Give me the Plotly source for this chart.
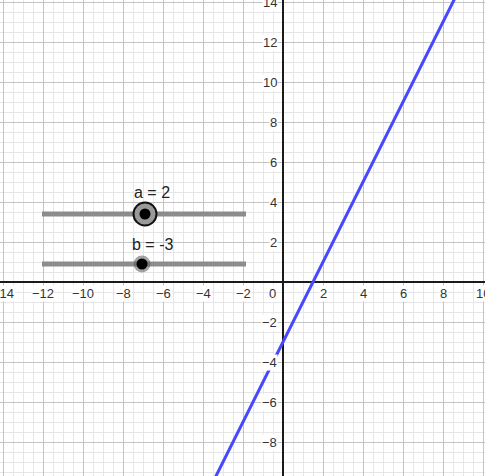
import plotly.graph_objects as go

# ---- data ----
a_value = 2
b_value = -3
line_x = [-4, 9]
x_tick_values = [-14, -12, -10, -8, -6, -4, -2, 2, 4, 6, 8, 10]
y_tick_values = [-8, -6, -4, -2, 2, 4, 6, 8, 10, 12, 14]
slider_x = [-12.05, -1.85]
slider_a_y = 3.4
slider_b_y = 0.9
knob_a_x = -6.9
knob_b_x = -7.05
label_a = "a = 2"
label_b = "b = -3"

line_y = [a_value * x + b_value for x in line_x]

X_RANGE = [-14.15, 10.1]
Y_RANGE = [-9.7, 14.1]
W, H = 485, 476

fig = go.Figure()

# sliders
for sy in [slider_a_y, slider_b_y]:
    fig.add_trace(go.Scatter(x=slider_x, y=[sy, sy], mode="lines",
                             line=dict(color="#8c8c8c", width=5),
                             hoverinfo="skip", showlegend=False))

# line f(x) = a x + b
fig.add_trace(go.Scatter(x=line_x, y=line_y, mode="lines",
                         line=dict(color="#4747ff", width=3),
                         showlegend=False))

# knob a (big, highlighted)
fig.add_trace(go.Scatter(x=[knob_a_x], y=[slider_a_y], mode="markers",
                         marker=dict(size=23, color="#9a9a9a",
                                     line=dict(color="#111111", width=2)),
                         showlegend=False))
fig.add_trace(go.Scatter(x=[knob_a_x], y=[slider_a_y], mode="markers",
                         marker=dict(size=11, color="#000000"),
                         showlegend=False))
# knob b
fig.add_trace(go.Scatter(x=[knob_b_x], y=[slider_b_y], mode="markers",
                         marker=dict(size=17, color="rgba(90,90,90,0.55)"),
                         showlegend=False))
fig.add_trace(go.Scatter(x=[knob_b_x], y=[slider_b_y], mode="markers",
                         marker=dict(size=11, color="#000000"),
                         showlegend=False))

annotations = []
font_tick = dict(family="Liberation Sans, Arial, sans-serif", size=13, color="#333333")
def fmt(v):
    return "\u2212" + str(-v) if v < 0 else str(v)
for v in x_tick_values:
    annotations.append(dict(x=v, y=0, xref="x", yref="y", text=fmt(v),
                            showarrow=False, yanchor="top", xanchor="center", yshift=-3,
                            font=font_tick, bgcolor="white", borderpad=0))
for v in y_tick_values:
    annotations.append(dict(x=0, y=v, xref="x", yref="y", text=fmt(v),
                            showarrow=False, yanchor="middle", xanchor="right", xshift=-5,
                            font=font_tick, bgcolor="white", borderpad=0))
annotations.append(dict(x=0, y=0, xref="x", yref="y", text="0", showarrow=False,
                        yanchor="top", xanchor="right", xshift=-6, yshift=-3,
                        font=font_tick, bgcolor="white", borderpad=0))

font_lbl = dict(family="Liberation Sans, Arial, sans-serif", size=16, color="#222222")
annotations.append(dict(x=knob_a_x, y=slider_a_y, xref="x", yref="y", text=label_a,
                        showarrow=False, yanchor="bottom", xanchor="center", xshift=7, yshift=11,
                        font=font_lbl))
annotations.append(dict(x=knob_b_x, y=slider_b_y, xref="x", yref="y", text=label_b,
                        showarrow=False, yanchor="bottom", xanchor="center", xshift=10, yshift=9,
                        font=font_lbl))

axis_common = dict(showgrid=True, gridcolor="#c4c4c4", gridwidth=1, dtick=2,
                   tick0=0, zeroline=True, zerolinecolor="#1a1a1a", zerolinewidth=1.5,
                   showticklabels=False, ticks="", showline=False,
                   minor=dict(dtick=0.5, showgrid=True, gridcolor="#e6e6e6", gridwidth=1))

fig.update_layout(
    width=W, height=H,
    margin=dict(l=0, r=0, t=0, b=0),
    paper_bgcolor="white", plot_bgcolor="white",
    xaxis=dict(range=X_RANGE, **axis_common),
    yaxis=dict(range=Y_RANGE, **axis_common),
    annotations=annotations,
    showlegend=False,
)

fig.write_html("out.html",
               config={"displayModeBar": False},
               post_script="document.body.style.margin='0';document.body.style.overflow='hidden';")
